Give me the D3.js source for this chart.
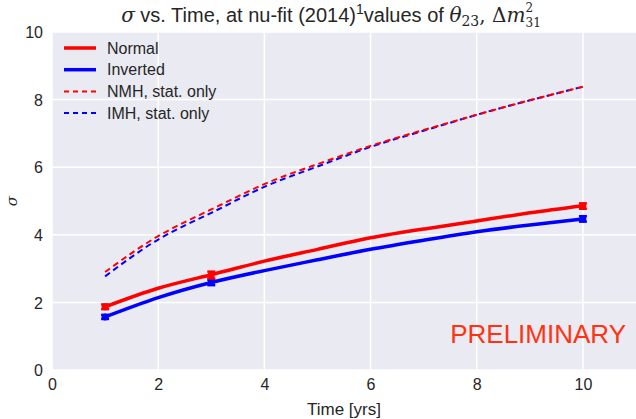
<!DOCTYPE html>
<html>
<head>
<meta charset="utf-8">
<script src="https://cdn.jsdelivr.net/npm/d3@7"></script>
<style>
  body { margin: 0; background: #fff; }
  text { font-family: "Liberation Sans", Arial, sans-serif; fill: #262626; }
  .math { font-family: "DejaVu Serif", serif; font-style: italic; }
</style>
</head>
<body>
<svg id="chart" width="636" height="419"></svg>
<script>
// values
const years = [1, 2, 3, 4, 5, 6, 7, 8, 9, 10];
const normal = [1.87, 2.42, 2.82, 3.22, 3.57, 3.91, 4.17, 4.41, 4.65, 4.86];
const inverted = [1.57, 2.14, 2.59, 2.94, 3.26, 3.57, 3.84, 4.09, 4.29, 4.47];
const nmhStat = [2.9, 3.96, 4.75, 5.5, 6.09, 6.63, 7.1, 7.55, 7.98, 8.38];
const imhStat = [2.77, 3.86, 4.65, 5.42, 6.02, 6.6, 7.08, 7.55, 7.98, 8.38];

// measured points with error bars
const measYears = [1, 3, 10];
const normalMeas = [1.87, 2.81, 4.85];
const normalErr = [0.07, 0.1, 0.08];
const invertedMeas = [1.57, 2.59, 4.47];
const invertedErr = [0.06, 0.08, 0.08];

const xTicks = [0, 2, 4, 6, 8, 10];
const yTicks = [0, 2, 4, 6, 8, 10];

const svg = d3.select("#chart");
const margin = {left: 52, right: 0, top: 32, bottom: 49};
const width = 636 - margin.left - margin.right;
const height = 419 - margin.top - margin.bottom;

const x = d3.scaleLinear().domain([0, 11]).range([0, width]);
const y = d3.scaleLinear().domain([0, 10]).range([height, 0]);

const g = svg.append("g")
  .attr("transform", "translate(" + margin.left + "," + margin.top + ")");

g.append("rect")
  .attr("width", width)
  .attr("height", height)
  .attr("fill", "#eaeaf2");

// grid
g.append("g").selectAll("line")
  .data(xTicks)
  .enter()
  .append("line")
  .attr("x1", d => x(d)).attr("x2", d => x(d))
  .attr("y1", 0).attr("y2", height)
  .attr("stroke", "#fff").attr("stroke-width", 1.5);

g.append("g").selectAll("line")
  .data(yTicks)
  .enter()
  .append("line")
  .attr("x1", 0).attr("x2", width)
  .attr("y1", d => y(d)).attr("y2", d => y(d))
  .attr("stroke", "#fff").attr("stroke-width", 1.5);

// axes (no domain lines, seaborn style)
const xAxis = g.append("g")
  .attr("transform", "translate(0," + height + ")")
  .call(d3.axisBottom(x).tickValues(xTicks).tickSize(0).tickPadding(9));
const yAxis = g.append("g")
  .call(d3.axisLeft(y).tickValues(yTicks).tickSize(0).tickPadding(9));
[xAxis, yAxis].forEach(a => {
  a.select(".domain").remove();
  a.selectAll("text")
    .style("font-family", "Liberation Sans, Arial, sans-serif")
    .style("font-size", "16px")
    .attr("fill", "#262626");
});
yAxis.selectAll("text").attr("dy", "0.35em");

svg.append("text")
  .attr("x", margin.left + x(5.5))
  .attr("y", 415)
  .attr("text-anchor", "middle")
  .style("font-size", "17px")
  .text("Time [yrs]");

svg.append("text")
  .attr("class", "math")
  .attr("transform", "translate(17," + (margin.top + height / 2) + ") rotate(-90)")
  .attr("text-anchor", "middle")
  .style("font-size", "15px")
  .text("σ");

// title
const title = svg.append("text")
  .attr("x", 331)
  .attr("y", 22)
  .attr("text-anchor", "middle")
  .style("font-size", "20px");
title.append("tspan").attr("class", "math").text("σ");
title.append("tspan").text(" vs. Time, at nu-fit (2014)");
title.append("tspan").attr("dy", -8).style("font-size", "14px").text("1");
title.append("tspan").attr("dy", 8).text("values of ");
title.append("tspan").attr("class", "math").text("θ");
title.append("tspan").attr("class", "math").attr("dy", 4).style("font-size", "14px").style("font-style", "normal").text("23");
title.append("tspan").attr("dy", -4).attr("class", "math").style("font-style", "normal").text(", Δ");
title.append("tspan").attr("class", "math").text("m");
title.append("tspan").attr("class", "math").attr("dy", -10).style("font-size", "12px").style("font-style", "normal").text("2");
title.append("tspan").attr("class", "math").attr("dx", -7.5).attr("dy", 15).style("font-size", "12px").style("font-style", "normal").text("31");

// lines
const line = d3.line()
  .x((d, i) => x(years[i]))
  .y(d => y(d))
  .curve(d3.curveNatural);

const series = [
  {values: normal, color: "#ff0000", width: 3.5, dash: null},
  {values: inverted, color: "#0000ff", width: 3.5, dash: null},
  {values: nmhStat, color: "#ff0000", width: 2, dash: "6,4"},
  {values: imhStat, color: "#0000ff", width: 2, dash: "6,4"}
];

// dashed first so solid draw over them
[series[3], series[2], series[1], series[0]].forEach(s => {
  g.append("path")
    .datum(s.values)
    .attr("d", line)
    .attr("fill", "none")
    .attr("stroke", s.color)
    .attr("stroke-width", s.width)
    .attr("stroke-dasharray", s.dash);
});

// error bars and markers
const measured = [
  {values: invertedMeas, err: invertedErr, color: "#0000ff"},
  {values: normalMeas, err: normalErr, color: "#ff0000"}
];
measured.forEach(m => {
  const pts = g.append("g").selectAll("g")
    .data(m.values)
    .enter()
    .append("g")
    .attr("transform", (d, i) => "translate(" + x(measYears[i]) + "," + y(d) + ")");
  pts.append("line")
    .attr("y1", (d, i) => y(d + m.err[i]) - y(d))
    .attr("y2", (d, i) => y(d - m.err[i]) - y(d))
    .attr("stroke", m.color).attr("stroke-width", 3);
  pts.append("line")
    .attr("x1", -4).attr("x2", 4)
    .attr("y1", (d, i) => y(d + m.err[i]) - y(d))
    .attr("y2", (d, i) => y(d + m.err[i]) - y(d))
    .attr("stroke", m.color).attr("stroke-width", 2.5);
  pts.append("line")
    .attr("x1", -4).attr("x2", 4)
    .attr("y1", (d, i) => y(d - m.err[i]) - y(d))
    .attr("y2", (d, i) => y(d - m.err[i]) - y(d))
    .attr("stroke", m.color).attr("stroke-width", 2.5);
  pts.append("circle")
    .attr("r", 3.5)
    .attr("fill", m.color);
});

// legend
const legendNames = ["Normal", "Inverted", "NMH, stat. only", "IMH, stat. only"];
const legend = svg.append("g").selectAll("g")
  .data(series)
  .enter()
  .append("g")
  .attr("transform", (d, i) => "translate(64," + (48 + i * 21.7) + ")");
legend.append("line")
  .attr("x1", 0).attr("x2", 32)
  .attr("stroke", d => d.color)
  .attr("stroke-width", d => d.width)
  .attr("stroke-dasharray", d => d.dash ? "5,4" : null);
legend.append("text")
  .attr("x", 43)
  .attr("dy", "0.35em")
  .style("font-size", "16px")
  .text((d, i) => legendNames[i]);

svg.append("text")
  .attr("x", 626)
  .attr("y", 343)
  .attr("text-anchor", "end")
  .style("font-size", "26px")
  .style("fill", "#ff3311")
  .text("PRELIMINARY");
</script>
</body>
</html>
